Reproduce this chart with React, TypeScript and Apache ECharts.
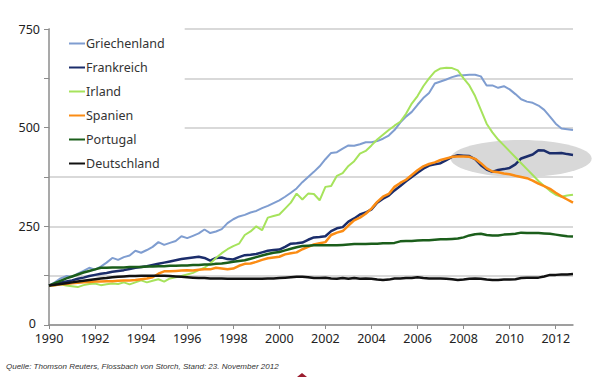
import React, { useEffect, useRef } from "react";
import * as echarts from "echarts";

const years = [
  1990, 1991, 1992, 1993, 1994, 1995, 1996, 1997, 1998, 1999, 2000, 2001,
  2002, 2003, 2004, 2005, 2006, 2007, 2008, 2009, 2010, 2011, 2012,
];
const quarters: string[] = [];
years.forEach((y) => {
  ["Q1", "Q2", "Q3", "Q4"].forEach((q) => quarters.push(`${y} ${q}`));
});

const yTicks = [0, 250, 500, 750];

const griechenland = [
  100, 108, 118, 124, 122, 130, 137, 145, 140, 148, 158, 170, 165, 172, 176, 188,
  183, 190, 198, 210, 203, 208, 213, 225, 220, 226, 232, 242, 233, 237, 243, 258,
  268, 275, 279, 285, 289, 296, 302, 309, 316, 325, 335, 346, 362, 375, 388, 402,
  420, 436, 438, 447, 455, 454, 458, 463, 463, 466, 472, 480, 494, 513, 528, 540,
  558, 575, 588, 612, 617, 622, 628, 632, 633, 634, 634, 630, 607, 607, 601, 605,
  597, 585, 572, 566, 563, 556, 545, 528, 510, 498, 496, 494,
];
const frankreich = [
  100, 103, 107, 110, 113, 117, 120, 124, 127, 130, 132, 135, 137, 139, 142, 145,
  147, 149, 152, 155, 158, 161, 164, 167, 169, 171, 173, 170, 163, 170, 171, 167,
  166, 172, 177, 178, 180, 184, 188, 190, 191, 198, 206, 207, 209, 216, 222, 223,
  225, 238, 245, 248, 262, 270, 280, 285, 293, 310, 320, 328, 341, 352, 364, 375,
  386, 396, 404, 407, 410, 418, 426, 430, 429, 428, 420, 405, 394, 388, 393, 395,
  398, 407, 422, 427, 432, 443, 442, 435, 435, 436, 433, 431,
];
const irland = [
  100, 101, 103, 100, 98, 96, 101, 104, 105, 101, 103, 105, 104, 108, 103, 108,
  113, 108, 112, 116, 110, 118, 121, 124, 128, 132, 139, 145, 156, 170, 182, 192,
  200, 206, 228, 237, 250, 240, 272, 276, 280, 295, 310, 333, 318, 333, 332, 316,
  350, 352, 378, 385, 403, 415, 434, 441, 455, 470, 482, 494, 505, 515, 535, 561,
  580, 605, 625, 642, 650, 652, 651, 645, 625, 607, 580, 545, 510, 488, 470, 455,
  440, 425, 410, 395, 380, 365, 352, 340, 330, 325, 328, 330,
];
const spanien = [
  100, 101, 103, 104, 106, 107, 108, 109, 110, 110, 111, 111, 112, 113, 113, 114,
  116, 118, 121, 130, 136, 136, 137, 138, 139, 138, 140, 141, 141, 145, 143, 141,
  143, 150, 155, 156, 160, 165, 169, 171, 173, 179, 182, 184, 192, 198, 204, 207,
  210, 228, 234, 238, 252, 265, 272, 282, 295, 312, 325, 332, 350, 360, 368, 380,
  392, 402, 408, 412, 418, 422, 426, 427, 427, 426, 421, 410, 397, 389, 387, 384,
  382, 378, 375, 372, 366, 358, 352, 345, 335, 326, 318, 310,
];
const portugal = [
  100, 106, 112, 118, 123, 128, 133, 137, 141, 145, 145, 146, 146, 146, 147, 147,
  147, 148, 148, 149, 149, 150, 150, 151, 151, 152, 152, 153, 153, 155, 156, 158,
  160, 162, 164, 168, 172, 176, 180, 183, 185, 189, 193, 197, 200, 201, 202, 202,
  202, 202, 202, 203, 204, 205, 205, 205, 206, 206, 207, 207, 208, 212, 213, 213,
  214, 215, 215, 216, 217, 217, 218, 219, 222, 227, 230, 231, 228, 227, 227, 229,
  230, 231, 234, 233, 233, 233, 232, 231, 229, 227, 225, 224,
];
const deutschland = [
  100, 102, 104, 106, 108, 110, 112, 114, 116, 118, 119, 121, 122, 123, 124, 124,
  125, 125, 125, 125, 125, 124, 123, 122, 121, 120, 119, 119, 118, 118, 118, 117,
  117, 117, 117, 117, 117, 117, 118, 118, 119, 120, 121, 122, 122, 121, 119, 119,
  120, 118, 117, 119, 117, 119, 117, 118, 117, 115, 114, 115, 118, 118, 119, 119,
  121, 119, 118, 118, 118, 117, 116, 114, 115, 117, 118, 117, 115, 114, 114, 115,
  115, 116, 119, 120, 120, 120, 123, 127, 127, 128, 128, 129,
];

const seriesDefs = [
  { name: "Griechenland", data: griechenland, color: "#7f9dd0", width: 2 },
  { name: "Frankreich", data: frankreich, color: "#1b2d6b", width: 2.5 },
  { name: "Irland", data: irland, color: "#a6e35c", width: 2 },
  { name: "Spanien", data: spanien, color: "#fb8c14", width: 2.5 },
  { name: "Portugal", data: portugal, color: "#1b5e1b", width: 2.5 },
  { name: "Deutschland", data: deutschland, color: "#111111", width: 2.5 },
];

// highlighted region (data coordinates)
const highlightCenter = ["2010 Q3", 422];
const highlightHalfYears = 3.06;
const highlightHalfValue = 47;

const source =
  "Quelle: Thomson Reuters, Flossbach von Storch, Stand: 23. November 2012";

const FONT = "'Noto Sans', 'Open Sans', sans-serif";

export default function App() {
  const ref = useRef<HTMLDivElement>(null);
  useEffect(() => {
    if (!ref.current) return;
    const chart = echarts.init(ref.current, null, { renderer: "svg" });
    chart.setOption({
      animation: false,
      grid: { left: 49, right: 27, top: 29, bottom: 52, containLabel: false },
      legend: {
        orient: "vertical",
        left: 50,
        top: 27,
        padding: [10, 20, 3, 19],
        backgroundColor: "#ffffff",
        itemWidth: 16,
        itemHeight: 14,
        itemGap: 11,
        icon: "path://M0,6L16,6L16,8L0,8Z",
        textStyle: { fontSize: 12.5, color: "#333", fontFamily: FONT, padding: [0, 0, 0, -4] },
        data: seriesDefs.map((s) => s.name),
      },
      xAxis: {
        type: "category",
        data: quarters,
        boundaryGap: false,
        axisLine: { lineStyle: { color: "#8c8c8c", width: 1.5 } },
        axisTick: {
          interval: (i: number) => i % 8 === 0,
          length: 4,
          lineStyle: { color: "#8c8c8c" },
        },
        axisLabel: {
          interval: (i: number) => i % 8 === 0,
          formatter: (v: string) => v.slice(0, 4),
          fontSize: 12.5,
          lineHeight: 13,
          color: "#222",
          fontFamily: FONT,
          margin: 7,
        },
        splitLine: { show: false },
      },
      yAxis: {
        type: "value",
        min: 0,
        max: 750,
        interval: 125,
        axisLine: { show: true, lineStyle: { color: "#8c8c8c", width: 1.5 } },
        axisTick: { show: true, length: 5, lineStyle: { color: "#8c8c8c" } },
        axisLabel: {
          formatter: (v: number) =>
            v === 0 ? "{z|0}" : yTicks.includes(v) ? String(v) : "",
          fontSize: 12.5,
          lineHeight: 12,
          color: "#222",
          fontFamily: FONT,
          margin: 9,
          rich: {
            z: {
              fontSize: 12.5,
              fontFamily: FONT,
              color: "#222",
              padding: [0, 4, 4, 0],
            },
          },
        },
        splitLine: { lineStyle: { color: "#cdcdcd", width: 1.5 } },
      },
      series: seriesDefs.map((s) => ({
        name: s.name,
        type: "line",
        data: s.data,
        symbol: "none",
        smooth: false,
        lineStyle: { color: s.color, width: s.width },
        itemStyle: { color: s.color },
        z: 3,
      })),
    });

    const c = chart.convertToPixel({ xAxisIndex: 0, yAxisIndex: 0 }, highlightCenter as any) as number[];
    const p0 = chart.convertToPixel({ xAxisIndex: 0 }, "2010 Q1") as number;
    const p1 = chart.convertToPixel({ xAxisIndex: 0 }, "2011 Q1") as number;
    const pxPerYear = p1 - p0;
    const yA = chart.convertToPixel({ yAxisIndex: 0 }, 0) as number;
    const yB = chart.convertToPixel({ yAxisIndex: 0 }, highlightHalfValue) as number;
    chart.setOption({
      graphic: [
        {
          type: "ellipse",
          z: 1,
          shape: {
            cx: c[0],
            cy: c[1],
            rx: highlightHalfYears * pxPerYear,
            ry: Math.abs(yA - yB),
          },
          style: { fill: "#d8d8d8" },
        },
        {
          type: "text",
          left: 6,
          top: 362,
          style: {
            text: source,
            font: `italic 8px 'Liberation Sans', sans-serif`,
            fill: "#333",
          },
        },
        {
          type: "polygon",
          shape: { points: [[297, 377], [302, 373], [307, 377]] },
          style: { fill: "#9b1c2e" },
        },
      ],
    });
    return () => chart.dispose();
  }, []);
  return (
    <div
      ref={ref}
      style={{ position: "fixed", left: 0, top: 0, width: 600, height: 377, background: "#fff" }}
    />
  );
}
